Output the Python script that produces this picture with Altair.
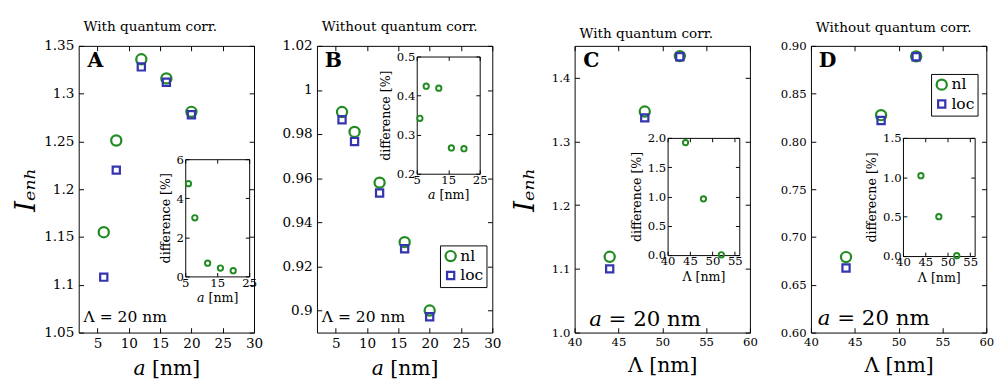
import altair as alt
import pandas as pd

FONT = "DejaVu Serif"
GREEN = "#228b22"
BLUE = "#3535b0"

# ---------------- data ----------------
series = ["nl", "loc"]

a_vals = [6, 8, 12, 16, 20]
A_nl = [1.155, 1.251, 1.336, 1.316, 1.281]
A_loc = [1.108, 1.220, 1.328, 1.312, 1.278]
A_diff = [4.75, 3.0, 0.68, 0.43, 0.29]

B_nl = [0.990, 0.981, 0.958, 0.931, 0.900]
B_loc = [0.9865, 0.9766, 0.9533, 0.928, 0.8972]
B_diff = [0.342, 0.424, 0.419, 0.266, 0.264]

lam_vals = [44, 48, 52]
C_nl = [1.119, 1.347, 1.434]
C_loc = [1.100, 1.337, 1.433]
C_diff = [1.92, 0.96, 0.005]

D_nl = [0.679, 0.8275, 0.889]
D_loc = [0.6675, 0.822, 0.8886]
D_diff = [1.02, 0.50, 0.005]

W, H, T = 181, 296, 5

BASE = dict(grid=False, labelFont=FONT, titleFont=FONT, labelColor="black",
            titleColor="black", tickColor="black", domainColor="black",
            tickWidth=1, domainWidth=1, labelOverlap=False, titleFontWeight="normal")


def ax(**kw):
    d = dict(BASE)
    d.update(kw)
    return alt.Axis(**d)


def panel(p):
    n = len(p["x"])
    df = pd.DataFrame({"x": p["x"] * 2, "y": p["nl"] + p["loc"],
                       "series": ["nl"] * n + ["loc"] * n})
    dfi = pd.DataFrame({"x": p["x"], "d": p["diff"]})
    xs = alt.Scale(domain=p["xdom"], nice=False, zero=False)
    ys = alt.Scale(domain=p["ydom"], nice=False, zero=False)

    if p["legend"] is not None:
        lx, ly = p["legend"]
        leg = alt.Legend(orient="none", legendX=lx, legendY=ly, title=None,
                         strokeColor="black", fillColor="white", padding=3,
                         labelFont=FONT, labelFontSize=16, labelColor="black",
                         symbolStrokeWidth=2.3, rowPadding=1, labelOffset=2)
    else:
        leg = None

    E = p["ext"]
    yax_kw = dict(orient="left", values=p["yticks"], format=p["yfmt"], domain=False,
                  ticks=False, labelPadding=5, labelFontSize=p["lfs"],
                  minExtent=E, maxExtent=E)
    if p["ytitle"]:
        yax_kw.update(title=p["ytitle"], titleFontSize=28, titleFontStyle="italic",
                      titlePadding=4)
    else:
        yax_kw.update(title=None)

    L1 = alt.Chart(df).mark_point(filled=False, strokeWidth=2.3, opacity=1).encode(
        x=alt.X("x:Q", scale=xs, axis=ax(orient="bottom", values=p["xticks"], domain=False,
                                          ticks=False, labelPadding=4, labelFontSize=p["lfs"],
                                          labelFlush=False, title=p["xtitle"],
                                          titleFontSize=21, titlePadding=8)),
        y=alt.Y("y:Q", scale=ys, axis=ax(**yax_kw)),
        color=alt.Color("series:N", scale=alt.Scale(domain=series, range=[GREEN, BLUE]), legend=leg),
        shape=alt.Shape("series:N", scale=alt.Scale(domain=series, range=["circle", "square"]), legend=leg),
        size=alt.Size("series:N", scale=alt.Scale(domain=series, range=[110, 55]), legend=leg),
    )
    L2 = alt.Chart(df).mark_point(opacity=0).encode(
        x=alt.X("x:Q", scale=xs, axis=ax(orient="bottom", offset=-T, tickSize=T, values=p["xticks"],
                                          labels=False, domain=False, title=None)),
        y=alt.Y("y:Q", scale=ys, axis=ax(orient="left", offset=-T, tickSize=T, values=p["yticks"],
                                          labels=False, domain=False, title=None)),
    )
    L3 = alt.Chart(df).mark_point(opacity=0).encode(
        x=alt.X("x:Q", scale=xs, axis=ax(orient="top", offset=-T, tickSize=T, values=p["xticks"],
                                          labels=False, domain=False, title=None)),
        y=alt.Y("y:Q", scale=ys, axis=ax(orient="right", offset=-T, tickSize=T, values=p["yticks"],
                                          labels=False, domain=False, title=None)),
    )

    il, ir, it, ib = p["inset"]
    ixs = alt.Scale(domain=p["ixdom"], range=[il, ir], nice=False, zero=False)
    iys = alt.Scale(domain=p["iydom"], range=[ib, it], nice=False, zero=False)
    I1 = alt.Chart(dfi).mark_point(filled=False, color=GREEN, strokeWidth=2, size=30,
                                   opacity=1, shape="circle").encode(
        x=alt.X("x:Q", scale=ixs, axis=ax(orient="bottom", offset=-(H - ib), values=p["ixticks"],
                                           domain=True, ticks=False, labelPadding=1, labelFontSize=12,
                                           labelFlush=False, title=p["ixtitle"], titleFontSize=13,
                                           titlePadding=4)),
        y=alt.Y("d:Q", scale=iys, axis=ax(orient="left", offset=-il, values=p["iyticks"],
                                           format=p["iyfmt"], domain=True, ticks=False, labelPadding=2,
                                           labelFontSize=12, title=p["iytitle"], titleFontSize=13,
                                           titlePadding=4)),
    )
    I2 = alt.Chart(dfi).mark_point(opacity=0).encode(
        x=alt.X("x:Q", scale=ixs, axis=ax(orient="top", offset=-it, values=p["ixticks"],
                                           domain=True, ticks=False, labels=False, title=None)),
        y=alt.Y("d:Q", scale=iys, axis=ax(orient="right", offset=-(W - ir), values=p["iyticks"],
                                           domain=True, ticks=False, labels=False, title=None)),
    )
    I3 = alt.Chart(dfi).mark_point(opacity=0).encode(
        x=alt.X("x:Q", scale=ixs, axis=ax(orient="bottom", offset=-(H - ib) - 4, tickSize=4,
                                           values=p["ixticks"], domain=False, labels=False, title=None)),
        y=alt.Y("d:Q", scale=iys, axis=ax(orient="left", offset=-il - 4, tickSize=4,
                                           values=p["iyticks"], domain=False, labels=False, title=None)),
    )
    I4 = alt.Chart(dfi).mark_point(opacity=0).encode(
        x=alt.X("x:Q", scale=ixs, axis=ax(orient="top", offset=-it - 4, tickSize=4,
                                           values=p["ixticks"], domain=False, labels=False, title=None)),
        y=alt.Y("d:Q", scale=iys, axis=ax(orient="right", offset=-(W - ir) - 4, tickSize=4,
                                           values=p["iyticks"], domain=False, labels=False, title=None)),
    )

    lx, ly = p["letter_pos"]
    TL = alt.Chart(pd.DataFrame({"t": [p["letter"]]})).mark_text(
        font=FONT, fontSize=21, fontWeight="bold", align="left", baseline="alphabetic",
        color="black").encode(x=alt.value(lx), y=alt.value(ly), text="t:N")
    ax_, ay_ = p["annot_pos"]
    TA = alt.Chart(pd.DataFrame({"t": [p["annot"]]})).mark_text(
        font=FONT, fontSize=p["annot_fs"], align="left", baseline="alphabetic",
        color="black").encode(x=alt.value(ax_), y=alt.value(ay_), text="t:N")

    return alt.layer(L1, L2, L3, I1, I2, I3, I4, TL, TA).resolve_scale(
        x="independent", y="independent").resolve_axis(
        x="independent", y="independent").properties(
        width=W, height=H,
        title=alt.Title(p["title"], anchor="start", frame="group", dx=5, offset=5,
                        font=FONT, fontSize=14, fontWeight="normal", color="black"))


A = panel(dict(x=a_vals, nl=A_nl, loc=A_loc, diff=A_diff, xdom=[2, 30], xticks=[5, 10, 15, 20, 25, 30],
               xtitle="𝑎 [nm]", ydom=[1.05, 1.35], yticks=[1.05, 1.1, 1.15, 1.2, 1.25, 1.3, 1.35],
               yfmt=".2~f", ytitle="Iₑₙₕ", lfs=14, legend=None, ext=36,
               inset=(110, 176, 117, 238), ixdom=[5, 25], ixticks=[5, 15, 25], iydom=[0, 6],
               iyticks=[0, 2, 4, 6], iyfmt="d", ixtitle="𝑎 [nm]", iytitle="difference [%]",
               letter="A", letter_pos=(9, 22), annot="Λ = 20 nm", annot_pos=(5, 285), annot_fs=16,
               title="With quantum corr."))
B = panel(dict(x=a_vals, nl=B_nl, loc=B_loc, diff=B_diff, xdom=[2, 30], xticks=[5, 10, 15, 20, 25, 30],
               xtitle="𝑎 [nm]", ydom=[0.89, 1.02], yticks=[0.9, 0.92, 0.94, 0.96, 0.98, 1.0, 1.02],
               yfmt=".2~f", ytitle=None, lfs=14, legend=(127, 206), ext=44,
               inset=(103, 168, 11, 132), ixdom=[5, 25], ixticks=[5, 15, 25], iydom=[0.2, 0.5],
               iyticks=[0.2, 0.3, 0.4, 0.5], iyfmt=".1f", ixtitle="𝑎 [nm]", iytitle="difference [%]",
               letter="B", letter_pos=(8, 22), annot="Λ = 20 nm", annot_pos=(5, 285), annot_fs=16,
               title="Without quantum corr."))
C = panel(dict(x=lam_vals, nl=C_nl, loc=C_loc, diff=C_diff, xdom=[40, 60], xticks=[40, 45, 50, 55, 60],
               xtitle="Λ [nm]", ydom=[1.0, 1.45], yticks=[1.0, 1.1, 1.2, 1.3, 1.4],
               yfmt=".1f", ytitle="Iₑₙₕ", lfs=12, legend=None, ext=32,
               inset=(96, 170, 95, 216), ixdom=[40, 56], ixticks=[40, 45, 50, 55], iydom=[0, 2],
               iyticks=[0, 0.5, 1.0, 1.5, 2.0], iyfmt=".1f", ixtitle="Λ [nm]", iytitle="difference [%]",
               letter="C", letter_pos=(9, 22), annot="𝑎 = 20 nm", annot_pos=(15, 289), annot_fs=22,
               title="With quantum corr."))
D = panel(dict(x=lam_vals, nl=D_nl, loc=D_loc, diff=D_diff, xdom=[40, 60], xticks=[40, 45, 50, 55, 60],
               xtitle="Λ [nm]", ydom=[0.6, 0.9], yticks=[0.6, 0.65, 0.7, 0.75, 0.8, 0.85, 0.9],
               yfmt=".2f", ytitle=None, lfs=12, legend=(124, 29), ext=43,
               inset=(95, 169, 95, 217), ixdom=[40, 56], ixticks=[40, 45, 50, 55], iydom=[0, 1.5],
               iyticks=[0, 0.5, 1.0, 1.5], iyfmt=".1f", ixtitle="Λ [nm]", iytitle="differecne [%]",
               letter="D", letter_pos=(8, 22), annot="𝑎 = 20 nm", annot_pos=(7, 288), annot_fs=22,
               title="Without quantum corr."))

LR = dict(color="independent", shape="independent", size="independent")
chart = alt.hconcat(A, B, C, D, spacing=10).resolve_legend(**LR).configure_view(
    stroke="black", strokeWidth=1).properties(
    padding={"left": 4, "top": 6, "right": 0, "bottom": 0})

chart.save("out.html", embed_options={"renderer": "svg", "actions": False})
